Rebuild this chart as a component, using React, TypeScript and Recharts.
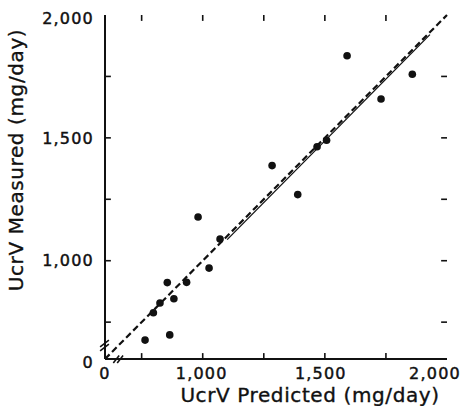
import React from 'react';
import { ScatterChart, Scatter, XAxis, YAxis, ReferenceLine } from 'recharts';

// Observed data (UcrV predicted vs measured, mg/day)
const predicted = [764, 798, 825, 855, 865, 882, 934, 981, 1026, 1071, 1284, 1389, 1468, 1507, 1591, 1730, 1858];
const measured = [677, 788, 828, 911, 698, 845, 912, 1178, 970, 1088, 1387, 1269, 1464, 1490, 1834, 1658, 1759];

// Line of identity (dashed) and regression line (solid)
const identityLine = [{ x: 600, y: 600 }, { x: 2000, y: 2000 }];
const regressionLine = [{ x: 1100, y: 1086 }, { x: 1930, y: 1920 }];

// Axis ticks (the lower end of each axis is a broken axis labelled "0")
const axisTicks = [600, 750, 1000, 1250, 1500, 1750, 2000];
const tickLabels = ['0', '', '1,000', '', '1,500', '', '2,000'];
const innerTicks = [750, 1000, 1250, 1500, 1750];
const AXIS_MIN = 600;
const AXIS_MAX = 2000;

// Axis-break marks ("//")
const xBreakMarks = [
  [{ x: 634, y: 584 }, { x: 658, y: 614 }],
  [{ x: 650, y: 584 }, { x: 674, y: 614 }],
];
const yBreakMarks = [
  [{ x: 580, y: 633 }, { x: 616, y: 661 }],
  [{ x: 580, y: 649 }, { x: 616, y: 677 }],
];

const points = predicted.map((x, i) => ({ x, y: measured[i] }));

const FONT = "'DejaVu Sans', sans-serif";
const INK = '#111';
const TICK_LEN = 24; // inward tick length in data units (~6px)
const xLabelShift = [0, 0, -1, 0, -4, 0, -12];
const yLabelShift = [3, 0, 0, 0, 0, 0, 3];

const labelProps = {
  fontFamily: FONT,
  fontSize: 16,
  letterSpacing: 1.2,
  fill: INK,
  stroke: INK,
  strokeWidth: 0.45,
};

const BottomTick = (props: any) => {
  const { x, y, payload } = props;
  const i = axisTicks.indexOf(payload.value);
  const label = i >= 0 ? tickLabels[i] : '';
  if (!label) return <g />;
  return (
    <text x={x + xLabelShift[i]} y={y} dy="0.71em" textAnchor="middle" {...labelProps}>
      {label}
    </text>
  );
};

const LeftTick = (props: any) => {
  const { x, y, payload } = props;
  const i = axisTicks.indexOf(payload.value);
  const label = i >= 0 ? tickLabels[i] : '';
  if (!label) return <g />;
  return (
    <text x={x} y={y + yLabelShift[i]} dy="0.355em" textAnchor="end" {...labelProps}>
      {label}
    </text>
  );
};

const Dot = (props: any) => <circle cx={props.cx} cy={props.cy} r={3.8} fill={INK} />;

const axisLineStyle = { stroke: INK, strokeWidth: 2 };
const titleStyle = { fontFamily: FONT, fontSize: 20, letterSpacing: 0.6, fill: INK, stroke: INK, strokeWidth: 0.35 };

const tickSegments = innerTicks.flatMap((v) => [
  [{ x: v, y: AXIS_MIN }, { x: v, y: AXIS_MIN + TICK_LEN }],
  [{ x: v, y: AXIS_MAX - TICK_LEN }, { x: v, y: AXIS_MAX }],
  [{ x: AXIS_MIN, y: v }, { x: AXIS_MIN + TICK_LEN, y: v }],
  [{ x: AXIS_MAX - TICK_LEN, y: v }, { x: AXIS_MAX, y: v }],
]);

export default function App() {
  return (
    <div style={{ position: 'absolute', left: 0, top: 0, background: '#fff' }}>
      <ScatterChart width={465} height={406} margin={{ top: 15, right: 18, bottom: 0, left: 0 }}>
        <XAxis
          type="number"
          dataKey="x"
          domain={[AXIS_MIN, AXIS_MAX]}
          ticks={axisTicks}
          allowDataOverflow
          height={47}
          axisLine={axisLineStyle}
          tickLine={false}
          tickSize={0}
          tickMargin={9}
          tick={<BottomTick />}
          interval={0}
          label={{ value: 'UcrV Predicted (mg/day)', position: 'center', dx: 34, dy: 12, style: titleStyle }}
        />
        <YAxis
          type="number"
          dataKey="y"
          domain={[AXIS_MIN, AXIS_MAX]}
          ticks={axisTicks}
          allowDataOverflow
          width={105}
          axisLine={axisLineStyle}
          tickLine={false}
          tickSize={0}
          tickMargin={11}
          tick={<LeftTick />}
          interval={0}
          label={{ value: 'UcrV Measured (mg/day)', angle: -90, position: 'center', dx: -36.5, dy: -27, style: titleStyle }}
        />
        <XAxis
          xAxisId="top"
          orientation="top"
          type="number"
          dataKey="x"
          domain={[AXIS_MIN, AXIS_MAX]}
          allowDataOverflow
          height={0}
          axisLine={axisLineStyle}
          tickLine={false}
          tick={false}
        />
        <YAxis
          yAxisId="right"
          orientation="right"
          type="number"
          dataKey="y"
          domain={[AXIS_MIN, AXIS_MAX]}
          allowDataOverflow
          width={0}
          axisLine={axisLineStyle}
          tickLine={false}
          tick={false}
        />
        {tickSegments.map((seg, i) => (
          <ReferenceLine key={'t' + i} segment={seg} ifOverflow="visible" stroke={INK} strokeWidth={1.6} />
        ))}
        <ReferenceLine
          segment={identityLine}
          ifOverflow="visible"
          stroke={INK}
          strokeWidth={2.2}
          strokeDasharray="6.5 3.5"
        />
        <ReferenceLine segment={regressionLine} ifOverflow="visible" stroke={INK} strokeWidth={1.3} />
        {xBreakMarks.map((seg, i) => (
          <ReferenceLine key={'xb' + i} segment={seg} ifOverflow="visible" stroke={INK} strokeWidth={1.6} />
        ))}
        {yBreakMarks.map((seg, i) => (
          <ReferenceLine key={'yb' + i} segment={seg} ifOverflow="visible" stroke={INK} strokeWidth={1.6} />
        ))}
        <Scatter data={points} shape={<Dot />} isAnimationActive={false} />
      </ScatterChart>
    </div>
  );
}
